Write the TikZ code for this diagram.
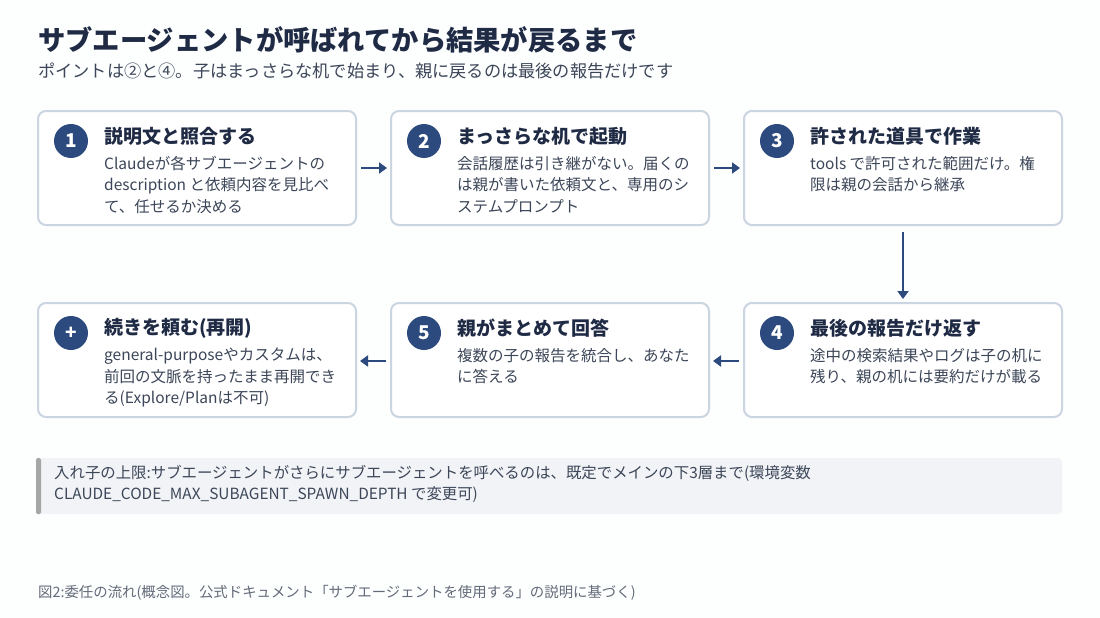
\documentclass[tikz,border=0pt]{standalone}
\usepackage{fontspec}
\setmainfont{Noto Sans CJK JP}
\usetikzlibrary{positioning,arrows.meta}
\definecolor{navy}{HTML}{1F2A44}
\definecolor{badge}{HTML}{2C4A7E}
\definecolor{edge}{HTML}{CBD4E1}
\definecolor{bodytxt}{HTML}{3C4658}
\definecolor{notebg}{HTML}{F1F3F6}
\tikzset{
  card/.style={draw=edge,line width=2pt,rounded corners=8pt,fill=white},
  num/.style={circle,fill=badge,text=white,minimum size=34pt,inner sep=0pt,font=\fontsize{19}{19}\selectfont\bfseries},
  head/.style={anchor=west,text=navy,font=\fontsize{19}{21}\selectfont\bfseries,inner sep=0pt},
  body/.style={anchor=north west,align=left,text=bodytxt,font=\fontsize{15.5}{21.5}\selectfont,inner sep=0pt},
  flow/.style={draw=badge,line width=2.6pt,-{Triangle[length=8pt,width=11pt]}}
}
\begin{document}
\begin{tikzpicture}[x=1pt,y=-1pt]
\fill[white!97!edge] (0,0) rectangle (1100,618);
\useasboundingbox (0,0) rectangle (1100,618);
% title
\node[anchor=west,text=navy,font=\fontsize{27.3}{30}\selectfont\bfseries,inner sep=0pt] (title) at (38,40) {サブエージェントが呼ばれてから結果が戻るまで};
\node[anchor=west,text=bodytxt,font=\fontsize{17.2}{20}\selectfont,inner sep=0pt] (sub) at (38,71) {ポイントは②と④。子はまっさらな机で始まり、親に戻るのは最後の報告だけです};
% cards
\draw[card] (38,111) rectangle (356,225);
\draw[card] (391,111) rectangle (709,225);
\draw[card] (744,111) rectangle (1062,225);
\draw[card] (38,303) rectangle (356,417);
\draw[card] (391,303) rectangle (709,417);
\draw[card] (744,303) rectangle (1062,417);
\node[num] (n1) at (71,141) {1};
\node[num] (n2) at (424,141) {2};
\node[num] (n3) at (777,141) {3};
\node[num] (n6) at (71,333) {+};
\node[num] (n5) at (424,333) {5};
\node[num] (n4) at (777,333) {4};
\node[head] (h1) at (104,136) {説明文と照合する};
\node[head] (h2) at (457,136) {まっさらな机で起動};
\node[head] (h3) at (810,136) {許された道具で作業};
\node[head] (h6) at (104,328) {続きを頼む(再開)};
\node[head] (h5) at (457,328) {親がまとめて回答};
\node[head] (h4) at (810,328) {最後の報告だけ返す};
\node[body] (b1) at (104,156) {Claudeが各サブエージェントの\\description と依頼内容を見比べ\\て、任せるか決める};
\node[body] (b2) at (457,156) {会話履歴は引き継がない。届くの\\は親が書いた依頼文と、専用のシ\\ステムプロンプト};
\node[body] (b3) at (810,156) {tools で許可された範囲だけ。権\\限は親の会話から継承};
\node[body] (b6) at (104,348) {general-purposeやカスタムは、\\前回の文脈を持ったまま再開でき\\る(Explore/Planは不可)};
\node[body] (b5) at (457,348) {複数の子の報告を統合し、あなた\\に答える};
\node[body] (b4) at (810,348) {途中の検索結果やログは子の机に\\残り、親の机には要約だけが載る};
% connectors
\coordinate (a1) at (361,168); \coordinate (a2) at (387,168);
\coordinate (a3) at (714,168); \coordinate (a4) at (740,168);
\coordinate (a5) at (903,232); \coordinate (a6) at (903,299);
\coordinate (a7) at (739,361); \coordinate (a8) at (713,361);
\coordinate (a9) at (386,361); \coordinate (a10) at (360,361);
\draw[flow] (a1) -- (a2);
\draw[flow] (a3) -- (a4);
\draw[flow] (a5) -- (a6);
\draw[flow] (a7) -- (a8);
\draw[flow] (a9) -- (a10);
% note
\fill[notebg,rounded corners=4pt] (36,458) rectangle (1062,514);
\fill[gray!70,rounded corners=1.5pt] (36,458) rectangle (41,514);
\node[body,font=\fontsize{15.4}{21.5}\selectfont] (note) at (54,465) {入れ子の上限:サブエージェントがさらにサブエージェントを呼べるのは、既定でメインの下3層まで(環境変数\\CLAUDE\_CODE\_MAX\_SUBAGENT\_SPAWN\_DEPTH で変更可)};
% caption
\node[anchor=west,text=bodytxt!80,font=\fontsize{14.4}{16}\selectfont,inner sep=0pt] (cap) at (38,593) {図2:委任の流れ(概念図。公式ドキュメント「サブエージェントを使用する」の説明に基づく)};
\end{tikzpicture}
\end{document}
